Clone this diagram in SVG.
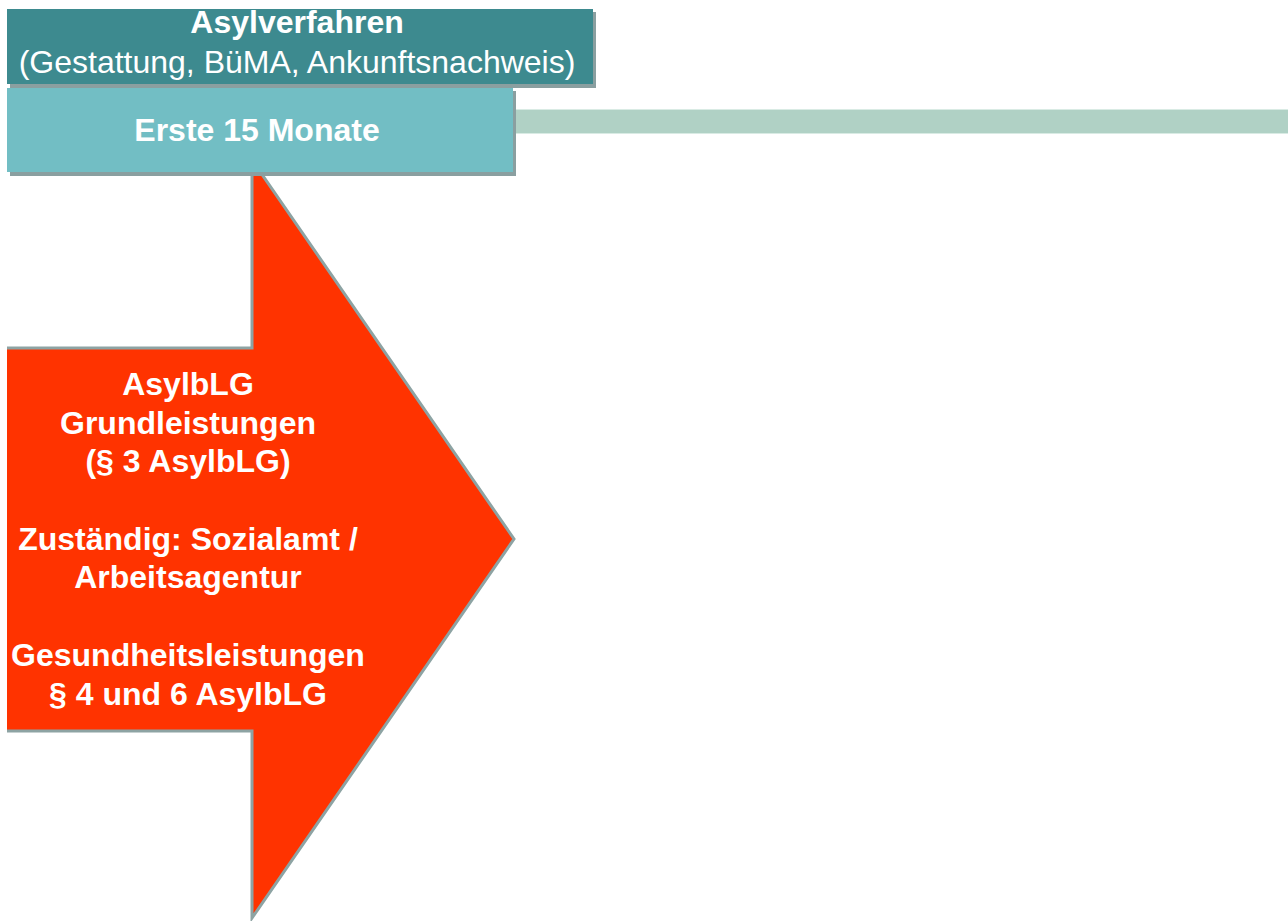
<svg xmlns="http://www.w3.org/2000/svg" width="1288" height="921" viewBox="0 0 1288 921">
<style>
.shadow{fill:#8a9fa0}
.t{font-family:"Liberation Sans",Arial,sans-serif;font-size:32px;fill:#ffffff;text-anchor:middle}
.b{font-weight:bold}
</style>
<rect x="0" y="0" width="1288" height="921" fill="#ffffff"/>
<g id="connectors">
<rect x="514" y="109" width="774" height="25" fill="#d9ebe4"/>
<rect x="514" y="110" width="774" height="23" fill="#b0d1c5"/>
</g>
<g id="arrow">
<polygon points="7,348 252,348 252,160 514,539 252,918 252,731 7,731" fill="#ff3300"/>
<polyline points="7,348 252,348 252,160 514,539 252,918 252,731 7,731" fill="none" stroke="#8da3a3" stroke-width="3" stroke-linejoin="miter"/>
<text class="t b" x="188" y="395">AsylbLG</text>
<text class="t b" x="188" y="434">Grundleistungen</text>
<text class="t b" x="188" y="472">(§ 3 AsylbLG)</text>
<text class="t b" x="188" y="550">Zuständig: Sozialamt /</text>
<text class="t b" x="188" y="588">Arbeitsagentur</text>
<text class="t b" x="188" y="666">Gesundheitsleistungen</text>
<text class="t b" x="188" y="705">§ 4 und 6 AsylbLG</text>
</g>
<g id="asylverfahren">
<rect class="shadow" x="10" y="12" width="586" height="76"/>
<rect x="7" y="9" width="586" height="75" fill="#3d8a8f"/>
<text class="t b" x="297" y="33">Asylverfahren</text>
<text class="t" x="297" y="73">(Gestattung, BüMA, Ankunftsnachweis)</text>
</g>
<g id="erste15">
<rect class="shadow" x="10" y="91" width="506" height="85"/>
<rect x="7" y="88" width="506" height="84" fill="#72bec4"/>
<text class="t b" x="257" y="141">Erste 15 Monate</text>
</g>
</svg>
